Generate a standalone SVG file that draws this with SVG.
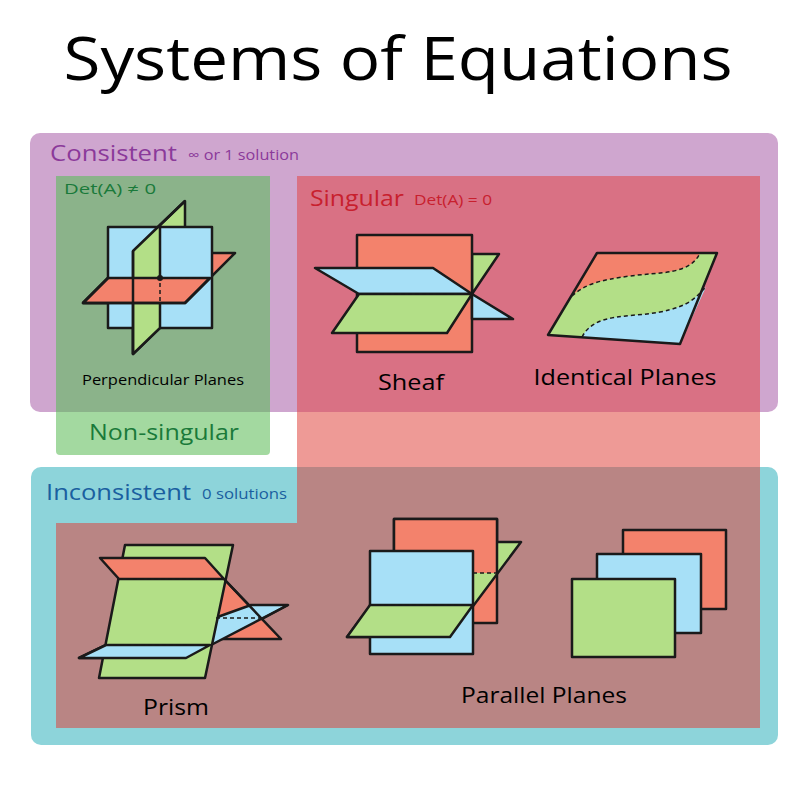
<svg xmlns="http://www.w3.org/2000/svg" width="800" height="800" viewBox="0 0 800 800">
<style>
text{font-family:"Open Sans","Noto Sans",sans-serif}
.r{fill:#f3826c}.b{fill:#a7e0f7}.g{fill:#b3df87}
.s{stroke:#1a1a1a;stroke-width:2.5;stroke-linejoin:round}
.d{stroke:#1a1a1a;stroke-width:1.5;stroke-dasharray:4 3;fill:none}
.lbl{font-size:21px;text-anchor:middle;fill:#000}
</style>
<rect width="800" height="800" fill="#fff"/>
<text x="398" y="80" font-size="60" text-anchor="middle" textLength="669" lengthAdjust="spacingAndGlyphs">Systems of Equations</text>
<g id="regions">
<rect x="30" y="133" width="748" height="279" rx="10" fill="#cfa6cf"/>
<rect x="31" y="467" width="747" height="278" rx="10" fill="#8dd4da"/>
<rect x="56" y="176" width="214" height="279" rx="4" fill="#a3d9a0"/>
<rect x="56" y="176" width="214" height="236" fill="#8bb38a"/>
<path d="M297 176H760V523H297Z" fill="#ee9a96"/>
<path d="M297 176H760V412H297Z" fill="#d97184"/>
<path d="M297 467H760V728H56V523H297Z" fill="#b98584"/>
</g>
<g id="consistent-label"><text x="50" y="161" font-size="22" fill="#8b3a9a" textLength="127" lengthAdjust="spacingAndGlyphs">Consistent</text><text x="188" y="160" font-size="14" fill="#8b3a9a" textLength="111" lengthAdjust="spacingAndGlyphs">∞ or 1 solution</text></g>
<g id="nonsingular-label"><text x="64" y="194" font-size="14" fill="#1a7a3a" textLength="92" lengthAdjust="spacingAndGlyphs">Det(A) ≠ 0</text><text x="164" y="440" font-size="21" text-anchor="middle" fill="#1a7a3a" textLength="150" lengthAdjust="spacingAndGlyphs">Non-singular</text></g>
<g id="singular-label"><text x="310" y="206" font-size="22" fill="#c8202e" textLength="94" lengthAdjust="spacingAndGlyphs">Singular</text><text x="414" y="205" font-size="14" fill="#c8202e" textLength="78" lengthAdjust="spacingAndGlyphs">Det(A) = 0</text></g>
<g id="inconsistent-label"><text x="46" y="500" font-size="22" fill="#1a5fa0" textLength="145" lengthAdjust="spacingAndGlyphs">Inconsistent</text><text x="202" y="499" font-size="14" fill="#1a5fa0" textLength="85" lengthAdjust="spacingAndGlyphs">0 solutions</text></g>

<g id="perpendicular">
<path class="r s" d="M83 303L185 303L235 253L133 253Z"/>
<path class="g s" d="M133 251L185 201L185 303L133 354Z"/>
<rect class="b s" x="108" y="227" width="104" height="101"/>
<path class="g s" d="M133 251L160 225L160 328L133 354Z"/>
<path class="r s" d="M83 303L185 303L210 278L108 278Z" stroke="none"/>
<path class="s" fill="none" d="M83 303L185 303L210 278M108 278L83 303M133 251V354M160 225L185 201"/>
<path class="d" d="M108 278H212M160 227V328"/>
<circle cx="160" cy="278" r="3" fill="#1a1a1a"/>
<text x="163" y="385" font-size="14" text-anchor="middle" textLength="162" lengthAdjust="spacingAndGlyphs">Perpendicular Planes</text>
</g>

<g id="sheaf">
<path class="g s" d="M472 254L499 254L472 294Z"/>
<rect class="r s" x="357" y="235" width="115" height="117"/>
<path class="b s" d="M472 294L513 319L472 319Z"/>
<path class="b s" d="M315 268L433 268L472 294L359 294Z"/>
<path class="g s" d="M359 294L472 294L447 333L332 333Z"/>
<path class="d" d="M359 294H472"/>
<text class="lbl" x="411" y="390" textLength="66" lengthAdjust="spacingAndGlyphs">Sheaf</text>
</g>

<g id="identical">
<path class="g" d="M597 253L717 253L680 344L548 335Z"/>
<path class="r" d="M597 253L700 253C690 275 660 272 630 276C600 280 585 284 572 296Z"/>
<path class="b" d="M582 337C595 312 630 318 660 312C690 306 695 298 706 287L680 344Z"/>
<path class="d" d="M572 296C585 284 600 280 630 276C660 272 690 275 700 253"/>
<path class="d" d="M582 337C595 312 630 318 660 312C690 306 695 298 706 287"/>
<path class="s" fill="none" d="M597 253L717 253L680 344L548 335Z"/>
<text class="lbl" x="625" y="385" textLength="183" lengthAdjust="spacingAndGlyphs">Identical Planes</text>
</g>

<g id="prism">
<path class="r s" d="M224 579L281 639L212 639Z"/>
<path class="b s" d="M79 658L186 658L288 605L251 605L212 619L106 645Z"/>
<path class="g s" d="M125 545L233 545L205 678L99 678Z"/>
<path class="r s" d="M100 558L205 558L224 579L119 579Z"/>
<path class="b s" d="M106 645L210 645L186 658L79 658Z"/>
<path class="s" fill="none" d="M224 579L262 619L288 605"/>
<path class="d" d="M119 579H224M106 645H210M216 618H260"/>
<text class="lbl" x="176" y="715" textLength="66" lengthAdjust="spacingAndGlyphs">Prism</text>
</g>

<g id="parallel">
<rect class="r s" x="394" y="519" width="103" height="104"/>
<path class="g s" d="M347 637L450 637L521 542L418 542Z"/>
<path class="r" d="M394 519H497V573H394Z"/>
<path class="s" fill="none" d="M394 573V519H497V573"/>
<rect class="b s" x="370" y="551" width="103" height="103"/>
<path class="g s" d="M370 605L473 605L450 637L347 637Z"/>
<path class="d" d="M370 605H473M473 573H497"/>
<rect class="r s" x="623" y="530" width="103" height="79"/>
<rect class="b s" x="597" y="554" width="104" height="79"/>
<rect class="g s" x="572" y="579" width="103" height="78"/>
<text class="lbl" x="544" y="703" textLength="166" lengthAdjust="spacingAndGlyphs">Parallel Planes</text>
</g>
</svg>
